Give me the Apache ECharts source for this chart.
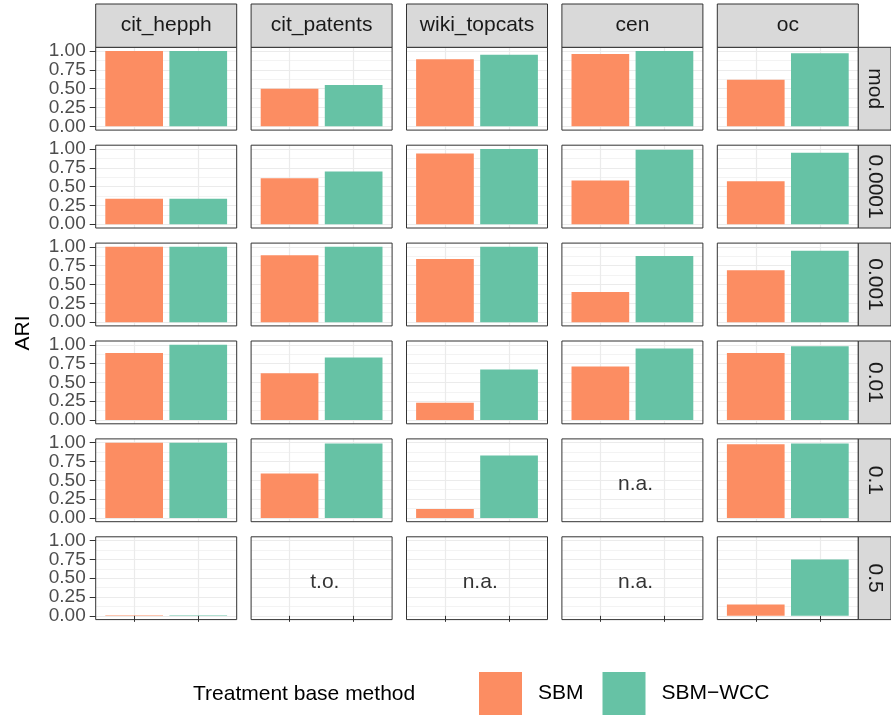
<!DOCTYPE html>
<html><head><meta charset="utf-8">
<script src="https://cdn.jsdelivr.net/npm/echarts@6/dist/echarts.min.js"></script>
<style>html,body{margin:0;padding:0;background:#fff}#c{width:891px;height:715px}</style>
</head><body><div id="c"></div>
<script>
// ---- data ----
const datasets = ['cit_hepph', 'cit_patents', 'wiki_topcats', 'cen', 'oc'];
const resolutions = ['mod', '0.0001', '0.001', '0.01', '0.1', '0.5'];
const methods = ['SBM', 'SBM\u2212WCC'];
// rows = resolutions, columns = datasets; null = no value
const sbmValues = [
  [1.00, 0.50, 0.89, 0.96, 0.62],
  [0.34, 0.61, 0.94, 0.58, 0.57],
  [1.00, 0.89, 0.84, 0.40, 0.69],
  [0.89, 0.62, 0.23, 0.71, 0.89],
  [1.00, 0.59, 0.12, null, 0.98],
  [0.008, null, null, null, 0.15]
];
const sbmWccValues = [
  [1.00, 0.55, 0.95, 1.00, 0.97],
  [0.34, 0.70, 1.00, 0.99, 0.95],
  [1.00, 1.00, 1.00, 0.88, 0.95],
  [1.00, 0.83, 0.67, 0.95, 0.98],
  [1.00, 0.99, 0.83, null, 0.99],
  [0.008, null, null, null, 0.75]
];
const notes = [
  { row: 4, col: 3, text: 'n.a.' },
  { row: 5, col: 1, text: 't.o.' },
  { row: 5, col: 2, text: 'n.a.' },
  { row: 5, col: 3, text: 'n.a.' }
];
const yTickValues = [0, 0.25, 0.5, 0.75, 1];
const yMinorValues = [0.125, 0.375, 0.625, 0.875];
const xPositions = [1, 2];

// ---- style / layout ----
const FONT = 'Liberation Sans, Arial, Helvetica, sans-serif';
const colors = ['#FC8D62', '#66C2A5'];
const L = { left0: 95.7, colStep: 155.4, pw: 141, top0: 47.3, rowStep: 97.9, ph: 82.8,
            stripTop: 4, stripH: 43.3, rStripW: 32.7 };
const nR = resolutions.length, nC = datasets.length;

const grids = [], xAxes = [], yAxes = [], series = [], graphics = [];
for (let r = 0; r < nR; r++) {
  for (let c = 0; c < nC; c++) {
    const i = r * nC + c;
    const left = L.left0 + c * L.colStep, top = L.top0 + r * L.rowStep;
    grids.push({ left: left, top: top, width: L.pw, height: L.ph, show: false });
    xAxes.push({
      type: 'value', gridIndex: i, min: 0.4, max: 2.6,
      axisLine: { show: false },
      axisTick: { show: r === nR - 1, customValues: xPositions, length: 6, lineStyle: { color: '#333', width: 1 } },
      axisLabel: { show: false },
      splitLine: { show: true, lineStyle: { color: '#EBEBEB', width: 1.2 } },
      minorSplitLine: { show: false }
    });
    yAxes.push({
      type: 'value', gridIndex: i, min: -0.05, max: 1.05,
      axisLine: { show: false },
      axisTick: { show: c === 0, customValues: yTickValues, length: 6, lineStyle: { color: '#333', width: 1 } },
      axisLabel: { show: c === 0, customValues: yTickValues, margin: 10, fontSize: 19, color: '#4D4D4D', fontFamily: FONT,
                   formatter: v => Number(v).toFixed(2) },
      splitLine: { show: true, lineStyle: { color: '#EBEBEB', width: 1.2 } }
    });
    yAxes.push({
      type: 'value', gridIndex: i, min: -0.05, max: 1.05,
      axisLine: { show: false },
      axisTick: { show: false, customValues: yMinorValues },
      axisLabel: { show: false },
      splitLine: { show: true, lineStyle: { color: '#F3F3F3', width: 1 } }
    });
    const vals = [sbmValues[r][c], sbmWccValues[r][c]];
    vals.forEach((v, k) => {
      series.push({
        name: methods[k], type: 'bar', xAxisIndex: i, yAxisIndex: 2 * i,
        barWidth: 57.7, barGap: '-100%', silent: true, animation: false,
        itemStyle: { color: colors[k] },
        data: v === null ? [] : [[xPositions[k], v]]
      });
    });
    graphics.push({ type: 'rect', z: 100, silent: true,
      shape: { x: left, y: top, width: L.pw, height: L.ph },
      style: { fill: 'none', stroke: '#333', lineWidth: 1 } });
  }
}
notes.forEach(n => {
  const i = n.row * nC + n.col;
  series.push({
    type: 'scatter', xAxisIndex: i, yAxisIndex: 2 * i, symbolSize: 1, silent: true, animation: false,
    itemStyle: { color: 'rgba(0,0,0,0)' },
    label: { show: true, position: 'inside', formatter: n.text, fontSize: 21, color: '#000', fontFamily: FONT },
    data: [[1.55, 0.45]]
  });
});
// column strips
datasets.forEach((d, c) => {
  const left = L.left0 + c * L.colStep;
  graphics.push({ type: 'rect', z: 100, silent: true,
    shape: { x: left, y: L.stripTop, width: L.pw, height: L.stripH },
    style: { fill: '#D9D9D9', stroke: '#333', lineWidth: 1 } });
  graphics.push({ type: 'text', z: 101, silent: true, x: left + L.pw / 2, y: L.stripTop + L.stripH / 2,
    style: { text: d, fontSize: 21, fill: '#1A1A1A', fontFamily: FONT, align: 'center', verticalAlign: 'middle' } });
});
// row strips
resolutions.forEach((res, r) => {
  const top = L.top0 + r * L.rowStep, left = L.left0 + (nC - 1) * L.colStep + L.pw;
  graphics.push({ type: 'rect', z: 100, silent: true,
    shape: { x: left, y: top, width: L.rStripW, height: L.ph },
    style: { fill: '#D9D9D9', stroke: '#333', lineWidth: 1 } });
  graphics.push({ type: 'text', z: 101, silent: true, x: left + L.rStripW / 2, y: top + L.ph / 2, rotation: -Math.PI / 2,
    style: { text: res, fontSize: 21, fill: '#1A1A1A', fontFamily: FONT, align: 'center', verticalAlign: 'middle' } });
});
// y title
graphics.push({ type: 'text', z: 101, silent: true, x: 23, y: 333, rotation: Math.PI / 2,
  style: { text: 'ARI', fontSize: 21, fill: '#000', fontFamily: FONT, align: 'center', verticalAlign: 'middle' } });
// legend title
graphics.push({ type: 'text', z: 101, silent: true, x: 193, y: 694,
  style: { text: 'Treatment base method', fontSize: 21, fill: '#000', fontFamily: FONT, align: 'left', verticalAlign: 'middle' } });

const chart = echarts.init(document.getElementById('c'), null, { renderer: 'canvas' });
chart.setOption({
  backgroundColor: '#fff',
  animation: false,
  grid: grids, xAxis: xAxes, yAxis: yAxes, series: series,
  legend: {
    data: methods, left: 479, top: 672, padding: 0, orient: 'horizontal',
    itemWidth: 43, itemHeight: 43, itemGap: 19, icon: 'rect', selectedMode: false,
    textStyle: { fontSize: 21, color: '#000', fontFamily: FONT, padding: [0, 0, 0, 11] }
  },
  graphic: graphics
});
</script>
</body></html>
